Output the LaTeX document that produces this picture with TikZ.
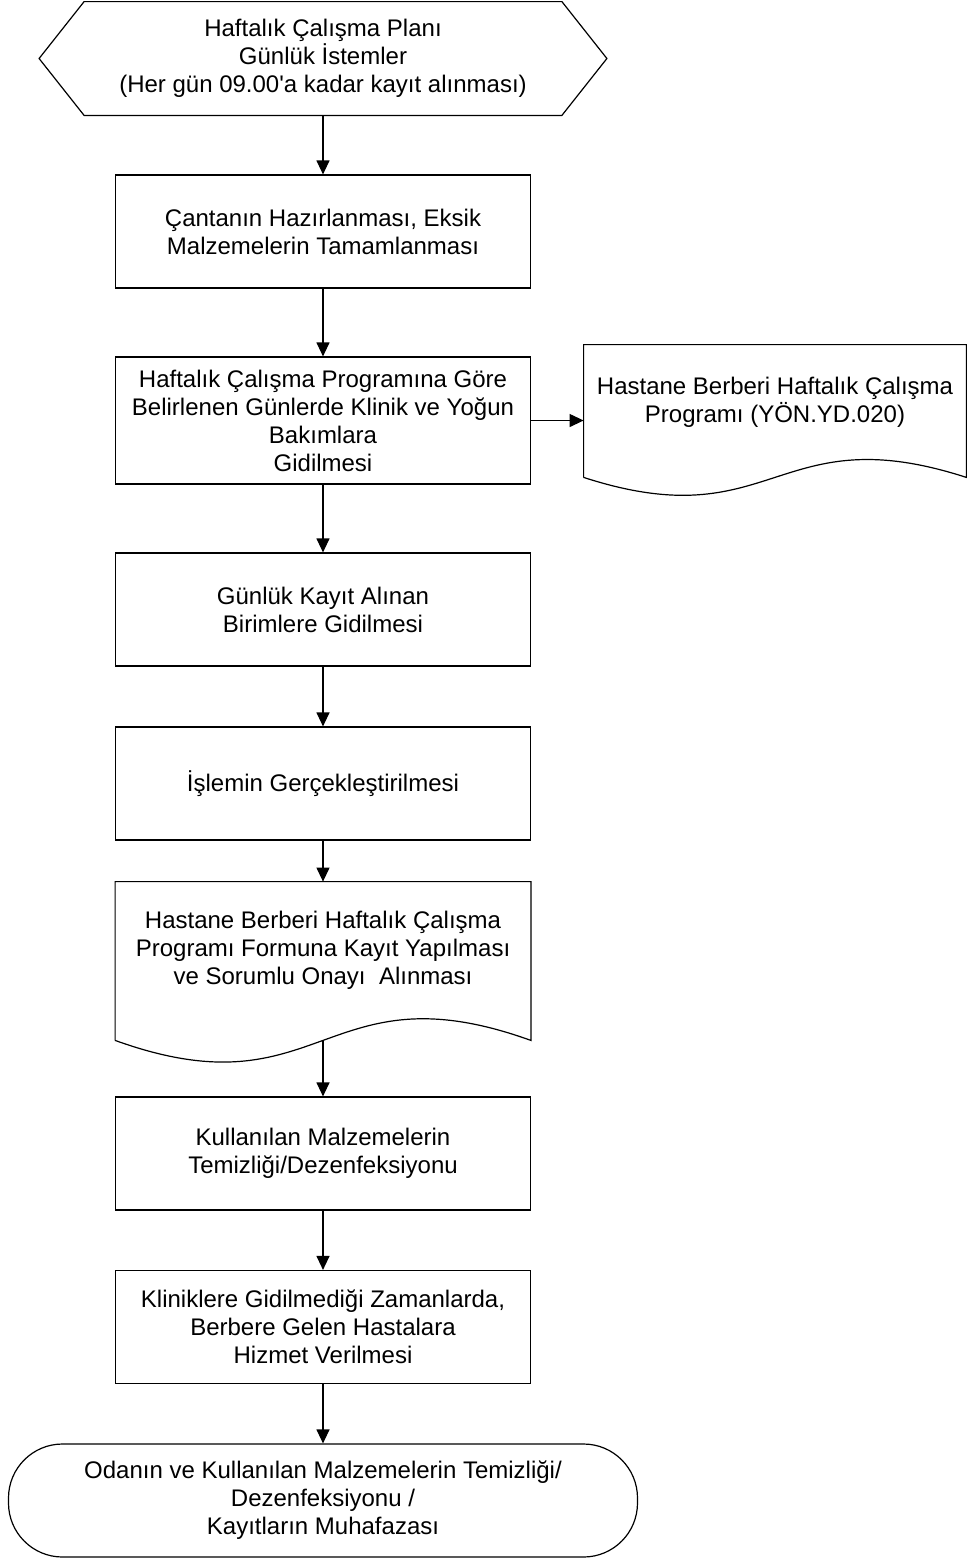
\documentclass[tikz,border=0pt]{standalone}
\usepackage{fontspec}
\setmainfont{Liberation Sans}
\usetikzlibrary{arrows.meta,calc}
\tikzset{
    txt/.style = {align=center, inner sep=0pt, font=\fontsize{12}{14}\selectfont},
    box/.style = {txt, draw, line width=0.6pt, minimum width=207.5pt, minimum height=56.5pt},
    frame/.style = {inner sep=0pt, minimum width=#1},
    flow/.style = {-{Triangle[length=7pt,width=6.5pt]}, line width=0.6pt},
}
\newcommand{\docwave}[2]{
    \draw [line width=0.6pt] (#1.south west) -- (#1.north west) -- (#1.north east) -- (#1.south east)
        .. controls ($(#1.south)+(0,-#2)$) and ($(#1.south)+(0,#2)$) .. (#1.south west);
}
\begin{document}
\begin{tikzpicture}[x=0.5pt, y=-0.5pt]
    \useasboundingbox (0,0) rectangle (966,1560);
    % hazirlik
    \node [txt, minimum width=283.5pt, minimum height=56.5pt] (plan) at (323,58.5)
        {Haftalık Çalışma Planı\\Günlük İstemler\\(Her gün 09.00\textquotesingle a kadar kayıt alınması)};
    \draw [line width=0.6pt] ([xshift=22.5pt]plan.north west) -- ([xshift=-22.5pt]plan.north east)
        -- (plan.east) -- ([xshift=-22.5pt]plan.south east) -- ([xshift=22.5pt]plan.south west)
        -- (plan.west) -- cycle;
    \node [box] (canta) at (323,231.5) {Çantanın Hazırlanması, Eksik\\Malzemelerin Tamamlanması};
    \node [box, minimum height=63.5pt] (klinik) at (323,420.5)
        {Haftalık Çalışma Programına Göre\\Belirlenen Günlerde Klinik ve Yoğun\\Bakımlara\\Gidilmesi};
    % dokumanlar
    \node [frame=191pt, minimum height=66pt] (program) at (775,411) {};
    \docwave{program}{62}
    \node [txt] at (775,402) {Hastane Berberi Haftalık Çalışma\\Programı (YÖN.YD.020)};
    \node [box] (birim) at (323,609.5) {Günlük Kayıt Alınan\\Birimlere Gidilmesi};
    \node [box] (islem) at (323,783.5) {İşlemin Gerçekleştirilmesi};
    \node [frame=207.5pt, minimum height=79pt] (form) at (323,961) {};
    \docwave{form}{75}
    \node [txt] at (323,950)
        {Hastane Berberi Haftalık Çalışma\\Programı Formuna Kayıt Yapılması\\ve Sorumlu Onayı\ \ Alınması};
    \node [box] (temiz) at (323,1153.5) {Kullanılan Malzemelerin\\Temizliği/Dezenfeksiyonu};
    \node [box] (berber) at (323,1327)
        {Kliniklere Gidilmediği Zamanlarda,\\Berbere Gelen Hastalara\\Hizmet Verilmesi};
    \node [box, minimum width=314.5pt, rounded corners=27pt] (son) at (323,1500.5)
        {Odanın ve Kullanılan Malzemelerin Temizliği/\\Dezenfeksiyonu /\\Kayıtların Muhafazası};
    % oklar
    \draw [flow] (plan.south) -- (canta.north);
    \draw [flow] (canta.south) -- (klinik.north);
    \draw [flow] (klinik.east) -- (klinik.east -| program.west);
    \draw [flow] (klinik.south) -- (birim.north);
    \draw [flow] (birim.south) -- (islem.north);
    \draw [flow] (islem.south) -- (form.north);
    \draw [flow] (form.south) -- (temiz.north);
    \draw [flow] (temiz.south) -- (berber.north);
    \draw [flow] (berber.south) -- (son.north);
\end{tikzpicture}
\end{document}
